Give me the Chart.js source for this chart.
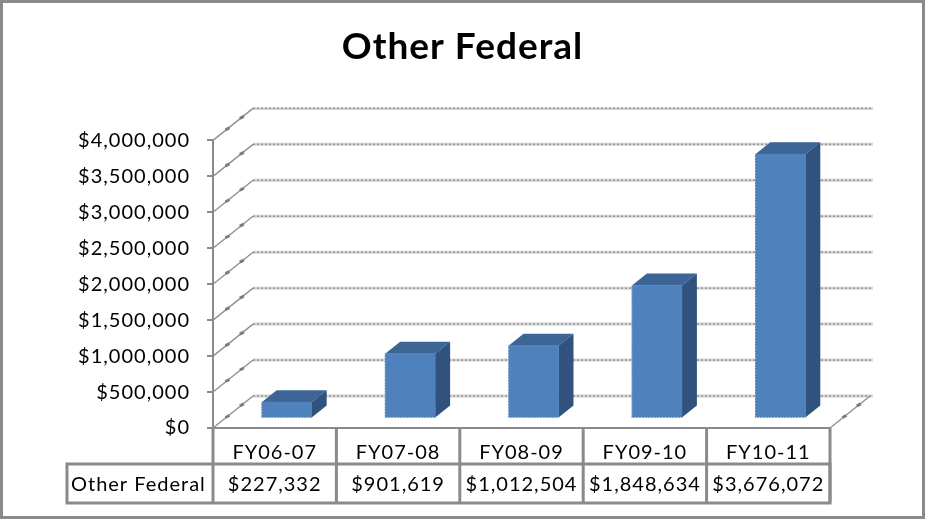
<!DOCTYPE html>
<html>
<head>
<meta charset="utf-8">
<script src="https://cdn.jsdelivr.net/npm/chart.js@4/dist/chart.umd.min.js"></script>
<style>
  html, body { margin: 0; padding: 0; background: #fff; }
  #wrap { width: 925px; height: 519px; position: relative; }
</style>
</head>
<body>
<div id="wrap"><canvas id="chart" width="925" height="519"></canvas></div>
<script>
const categories = ['FY06-07', 'FY07-08', 'FY08-09', 'FY09-10', 'FY10-11'];
const seriesName = 'Other Federal';
const seriesValues = [227332, 901619, 1012504, 1848634, 3676072];
const tickStep = 500000;
const tickMax = 4000000;

const AXIS_GRAY = '#8a8a8a';
const FONT = 'Lato, "Open Sans", sans-serif';

// offsets of the fake 3D box
const WALL_DX = 40, WALL_DY = -32;
const BAR_DX = 12, BAR_DY = -9.5;
const DEPTH_DX = 15, DEPTH_DY = -12;

const money = v => '$' + Number(v).toLocaleString('en-US');

function wavyLine(ctx, x1, y1, x2, y2) {
  ctx.save();
  ctx.strokeStyle = '#d6d6d6';
  ctx.lineWidth = 3;
  ctx.beginPath(); ctx.moveTo(x1, y1); ctx.lineTo(x2, y2); ctx.stroke();
  ctx.strokeStyle = '#989898';
  ctx.lineWidth = 1.5;
  ctx.setLineDash([2, 2]);
  ctx.beginPath(); ctx.moveTo(x1, y1); ctx.lineTo(x2, y2); ctx.stroke();
  ctx.restore();
}

function sideLine(ctx, x, y) {
  ctx.save();
  ctx.strokeStyle = '#909090';
  ctx.lineWidth = 1.4;
  ctx.beginPath(); ctx.moveTo(x, y); ctx.lineTo(x + WALL_DX, y + WALL_DY); ctx.stroke();
  // little blobs along the diagonal
  ctx.strokeStyle = '#7c7c7c';
  ctx.lineWidth = 3;
  [0.36, 0.72].forEach(f => {
    const bx = x + WALL_DX * f, by = y + WALL_DY * f;
    ctx.beginPath(); ctx.moveTo(bx - 2, by + 1); ctx.lineTo(bx + 2, by - 1); ctx.stroke();
  });
  ctx.restore();
}

const box3d = {
  id: 'box3d',
  beforeDraw(chart) {
    // all the text in the reference is a little wider than Lato
    chart.ctx.letterSpacing = '1px';
  },
  beforeDatasetsDraw(chart) {
    const { ctx, scales: { x, y } } = chart;
    // walls: horizontal grid at the back, diagonals on the left side
    y.ticks.forEach(t => {
      const py = y.getPixelForValue(t.value);
      sideLine(ctx, x.left, py);
      wavyLine(ctx, x.left + WALL_DX, py + WALL_DY, x.right + WALL_DX + 3, py + WALL_DY);
    });
    sideLine(ctx, x.right, y.bottom);
    // top and side faces of each bar
    const meta = chart.getDatasetMeta(0);
    meta.data.forEach(bar => {
      const half = bar.width / 2;
      const l = bar.x - half + BAR_DX, r = bar.x + half + BAR_DX;
      const t = bar.y + BAR_DY, b = bar.base + BAR_DY;
      ctx.fillStyle = '#3c6595';
      ctx.beginPath();
      ctx.moveTo(l, t); ctx.lineTo(r, t);
      ctx.lineTo(r + DEPTH_DX, t + DEPTH_DY); ctx.lineTo(l + DEPTH_DX, t + DEPTH_DY);
      ctx.closePath(); ctx.fill();
      ctx.fillStyle = '#30527d';
      ctx.beginPath();
      ctx.moveTo(r, t); ctx.lineTo(r + DEPTH_DX, t + DEPTH_DY);
      ctx.lineTo(r + DEPTH_DX, b + DEPTH_DY); ctx.lineTo(r, b);
      ctx.closePath(); ctx.fill();
    });
  },
  beforeDatasetDraw(chart) {
    chart.ctx.save();
    chart.ctx.translate(BAR_DX, BAR_DY);
  },
  afterDatasetDraw(chart) {
    const ctx = chart.ctx;
    // the reference has a jagged, dithered edge on the front faces
    ctx.strokeStyle = 'rgba(255,255,255,0.7)';
    ctx.lineWidth = 1;
    ctx.setLineDash([1, 2]);
    chart.getDatasetMeta(0).data.forEach(bar => {
      const half = bar.width / 2;
      ctx.beginPath();
      ctx.moveTo(bar.x - half, bar.y);
      ctx.lineTo(bar.x - half, bar.base);
      ctx.lineTo(bar.x + half, bar.base);
      ctx.stroke();
    });
    ctx.setLineDash([]);
    ctx.restore();
  }
};

const dataTable = {
  id: 'dataTable',
  afterDraw(chart) {
    const { ctx, scales: { x, y } } = chart;
    const top = 464, bottom = 503, left = 67;
    const cell = (x.right - x.left) / categories.length;
    ctx.save();
    ctx.strokeStyle = AXIS_GRAY;
    ctx.lineWidth = 3;
    ctx.strokeRect(left, top, x.right - left, bottom - top);
    // column dividers run from the axis through the table
    for (let i = 0; i <= categories.length; i++) {
      const px = x.left + cell * i;
      ctx.beginPath(); ctx.moveTo(px, y.bottom); ctx.lineTo(px, bottom); ctx.stroke();
    }
    ctx.fillStyle = '#000';
    ctx.font = '20px ' + FONT;
    ctx.textBaseline = 'middle';
    ctx.textAlign = 'left';
    ctx.fillText(seriesName, left + 4, 485);
    ctx.textAlign = 'center';
    seriesValues.forEach((v, i) => {
      ctx.fillText(money(v), x.getPixelForValue(i), 485);
    });
    // outer frame
    ctx.lineWidth = 3;
    ctx.strokeRect(1.5, 1.5, chart.width - 3, chart.height - 3);
    ctx.restore();
  }
};

new Chart(document.getElementById('chart'), {
  type: 'bar',
  data: {
    labels: categories,
    datasets: [{
      label: seriesName,
      data: seriesValues,
      backgroundColor: '#4f81bd',
      barThickness: 50
    }]
  },
  plugins: [box3d, dataTable],
  options: {
    responsive: false,
    animation: false,
    layout: { padding: 0 },
    plugins: {
      legend: { display: false },
      tooltip: { enabled: false },
      title: {
        display: true,
        text: seriesName,
        color: '#000',
        font: { family: FONT, size: 37, weight: 'bold' },
        padding: { top: 25, bottom: 71 }
      }
    },
    scales: {
      x: {
        afterFit: s => { s.height = 91; },
        grid: { display: false, drawTicks: false },
        border: { color: AXIS_GRAY, width: 2, dash: [2, 1] },
        ticks: { color: '#000', font: { family: FONT, size: 20 }, padding: 13, maxRotation: 0 }
      },
      y: {
        min: 0,
        max: tickMax,
        afterFit: s => { s.width = 213; },
        grid: { drawOnChartArea: false, color: AXIS_GRAY, lineWidth: 2, tickLength: 6 },
        border: { color: AXIS_GRAY, width: 2 },
        ticks: {
          stepSize: tickStep,
          color: '#000',
          font: { family: FONT, size: 20 },
          padding: 17,
          callback: v => money(v)
        }
      },
      // empty axis, only keeps the plot clear of the right side so the title stays centred
      rightGap: {
        position: 'right',
        afterFit: s => { s.width = 95; },
        grid: { display: false },
        border: { display: false },
        ticks: { display: false }
      }
    }
  }
});
</script>
</body>
</html>
